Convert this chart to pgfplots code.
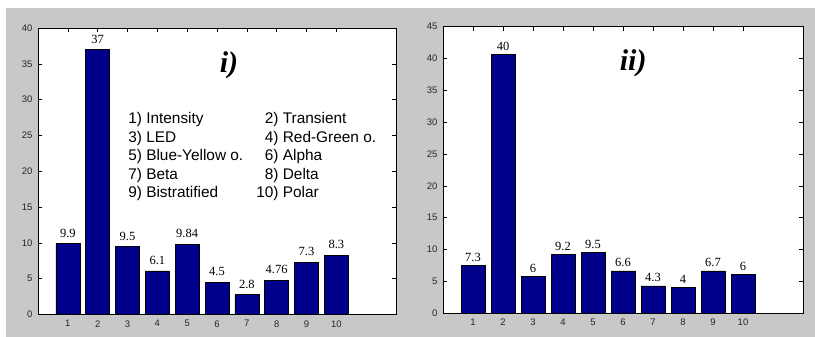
\documentclass[border=0pt]{standalone}
\usepackage{pgfplots}
\pgfplotsset{compat=1.18}
\usepackage{fontspec}
\setmainfont{Liberation Serif}
\setsansfont{Liberation Sans}
\definecolor{figgray}{RGB}{200,200,200}
\definecolor{barblue}{RGB}{0,0,140}

\pgfplotsset{
  matlab/.style={
    scale only axis,
    anchor=south west,
    ybar, bar width=0.8, bar shift=0pt,
    xmin=0, xmax=12,
    xtick={1,...,10},
    ymin=0,
    axis background/.style={fill=white},
    tick align=inside,
    major tick length=4bp,
    tick style={black, line width=0.5bp},
    axis line style={black, line width=0.7bp},
    ticklabel style={font=\fontsize{9.5bp}{11bp}\sffamily, text=black!85},
    xticklabel style={yshift=-2.4bp},
    yticklabel style={xshift=-2bp},
    /pgf/number format/assume math mode=true,
    nodes near coords,
    point meta=explicit symbolic,
    every node near coord/.append style={font=\fontsize{12.5bp}{14bp}\selectfont, inner sep=0pt, anchor=south, text=black},
  },
  mybar/.style={fill=barblue, draw=black, line width=0.5bp},
}

\begin{document}
\begin{tikzpicture}
\fill[white] (0,0) rectangle (815bp,337bp);
\path[use as bounding box] (0,0) rectangle (815bp,337bp);
\fill[figgray] (6bp,0) rectangle (815bp,329bp);

\begin{axis}[matlab, at={(38bp,22.5bp)}, width=358bp, height=286.5bp,
  ymax=40, ytick={0,5,...,40},
  every node near coord/.append style={yshift=6bp}]
\addplot[mybar] coordinates {
  (1,9.9) [9.9] (2,37) [37] (3,9.5) [9.5] (4,6.1) [6.1] (5,9.84) [9.84]
  (6,4.5) [4.5] (7,2.8) [2.8] (8,4.76) [4.76] (9,7.3) [7.3] (10,8.3) [8.3]
};
\node[font=\fontsize{30bp}{32bp}\selectfont\bfseries\itshape, inner sep=0pt] at (axis cs:6.4,34.75) {i)};
\node[anchor=base west, inner sep=0pt, font=\fontsize{15.4bp}{18.4bp}\sffamily] at (axis cs:3.02,26.6)
{\begin{tabular}[t]{@{}l@{\hspace{13bp}}r@{\hspace{4.3bp}}l@{}}
1) Intensity & 2) & Transient\\
3) LED & 4) & Red-Green o.\\
5) Blue-Yellow o. & 6) & Alpha\\
7) Beta & 8) & Delta\\
9) Bistratified & 10) & Polar
\end{tabular}};
\end{axis}

\begin{axis}[matlab, at={(443bp,23.8bp)}, width=360bp, height=286.5bp,
  ymax=45, ytick={0,5,...,45},
  every node near coord/.append style={yshift=3.5bp}]
\addplot[mybar] coordinates {
  (1,7.5) [7.3] (2,40.6) [40] (3,5.8) [6] (4,9.2) [9.2] (5,9.55) [9.5]
  (6,6.65) [6.6] (7,4.3) [4.3] (8,4.0) [4] (9,6.65) [6.7] (10,6.1) [6]
};
\node[font=\fontsize{30bp}{32bp}\selectfont\bfseries\itshape, inner sep=0pt] at (axis cs:6.34,39.27) {ii)};
\end{axis}
\end{tikzpicture}
\end{document}
